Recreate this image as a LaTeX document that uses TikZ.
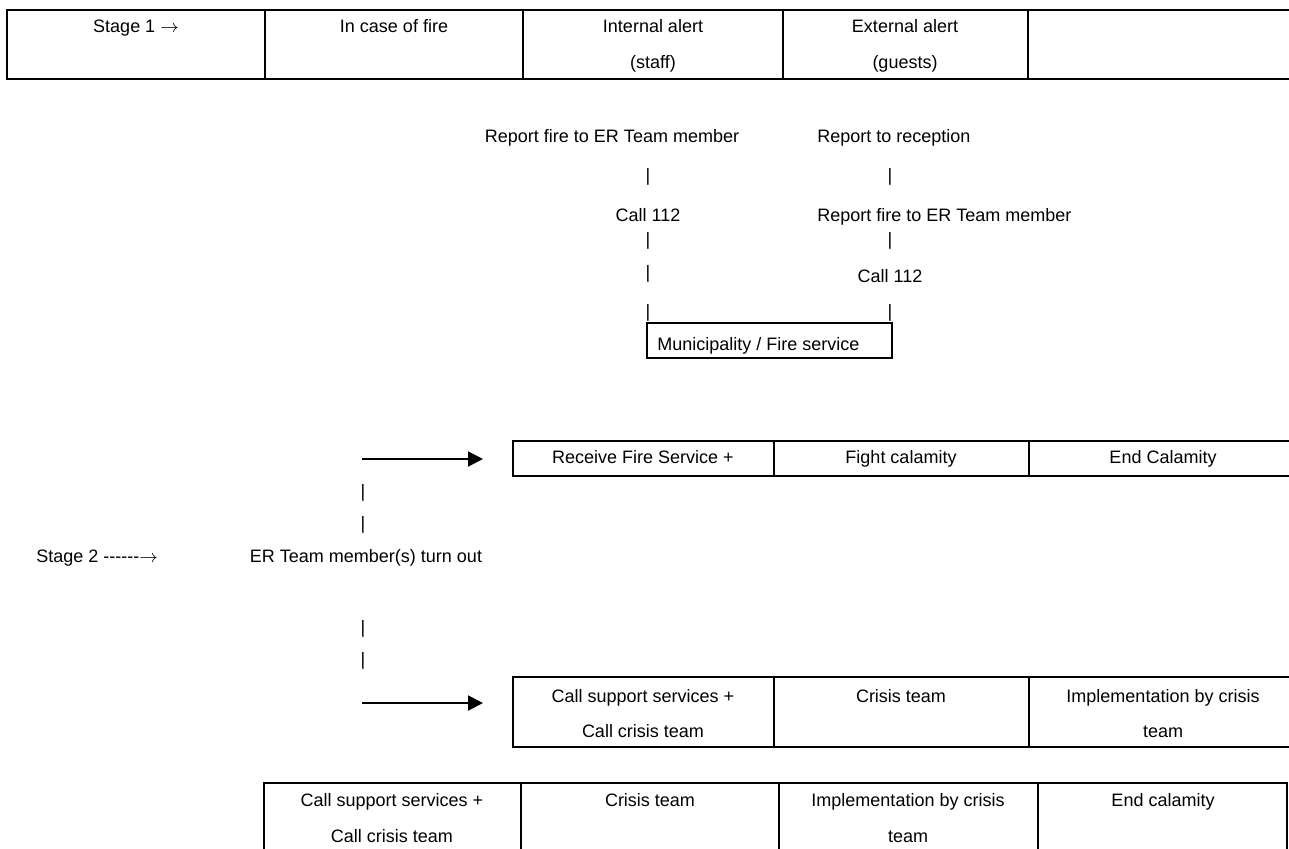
\documentclass[tikz,border=0pt]{standalone}
\usepackage{fontspec}
\setmainfont{Liberation Sans}
\usepackage{tikz}
\usetikzlibrary{arrows.meta}

\begin{document}
\begin{tikzpicture}[x=0.5pt, y=-0.5pt,
    every node/.style={font=\fontsize{9}{11}\selectfont, inner sep=0pt, text height=7pt, text depth=2pt},
    cell/.style={draw, line width=1pt, rectangle, outer sep=0pt, anchor=north west},
    flowarrow/.style={line width=1pt, -{Triangle[length=7.5pt, width=7.5pt]}}]
  \useasboundingbox (0,0) rectangle (1289,848);
  % stage 1 table
  \node[cell, minimum width=129pt, minimum height=34.5pt] (c1) at (7,10) {};
  \node[cell, minimum width=129pt, minimum height=34.5pt] (c2) at (265,10) {};
  \node[cell, minimum width=130pt, minimum height=34.5pt] (c3) at (523,10) {};
  \node[cell, minimum width=122.5pt, minimum height=34.5pt] (c4) at (783,10) {};
  \node[cell, minimum width=136pt, minimum height=34.5pt] (c5) at (1028,10) {};
  \node (stage1) at (136,27) {Stage 1 $\rightarrow$};
  \node (fire) at (394,27) {In case of fire};
  \node (intern) at (653,27) {Internal alert};
  \node (staff) at (653,63) {(staff)};
  \node (extern) at (905,27) {External alert};
  \node (guests) at (905,63) {(guests)};
  % alert chains
  \node (repL) at (612,137) {Report fire to ER Team member};
  \node[anchor=west] (repR) at (817,137) {Report to reception};
  \node (barL1) at (648,176) {|};
  \node (barR1) at (890,176) {|};
  \node (callL) at (648,216) {Call 112};
  \node[anchor=west] (repR2) at (817,216) {Report fire to ER Team member};
  \node (barL2) at (648,240) {|};
  \node (barR2) at (890,240) {|};
  \node (barL3) at (648,273) {|};
  \node (callR) at (890,277) {Call 112};
  \node (barL4) at (648,312) {|};
  \node (barR4) at (890,312) {|};
  \node[cell, minimum width=122.5pt, minimum height=17.5pt] (muni) at (647,323) {};
  \node[anchor=west] (munit) at (657,345) {Municipality / Fire service};
  % stage 2
  \coordinate (a1) at (362,459);
  \coordinate (a2) at (362,703);
  \node (barE1) at (363,492) {|};
  \node (barE2) at (363,524) {|};
  \node[anchor=west] (stage2) at (36,557) {Stage 2 -{}-{}-{}-{}-{}-$\rightarrow$};
  \node (ert) at (366,557) {ER Team member(s) turn out};
  \node (barE3) at (363,628) {|};
  \node (barE4) at (363,660) {|};
  % fire service row
  \node[cell, minimum width=130.5pt, minimum height=17.5pt] (t1a) at (513,441) {};
  \node[cell, minimum width=127.5pt, minimum height=17.5pt] (t1b) at (774,441) {};
  \node[cell, minimum width=135.5pt, minimum height=17.5pt] (t1c) at (1029,441) {};
  \node (rfs) at (643,458) {Receive Fire Service +};
  \node (fight) at (901,458) {Fight calamity};
  \node (endC) at (1163,458) {End Calamity};
  % crisis team row
  \node[cell, minimum width=130.5pt, minimum height=35pt] (t2a) at (513,677) {};
  \node[cell, minimum width=127.5pt, minimum height=35pt] (t2b) at (774,677) {};
  \node[cell, minimum width=135.5pt, minimum height=35pt] (t2c) at (1029,677) {};
  \node (sup2) at (643,697) {Call support services +};
  \node (cct2) at (643,732) {Call crisis team};
  \node (crt2) at (901,697) {Crisis team};
  \node (imp2) at (1163,697) {Implementation by crisis};
  \node (team2) at (1163,732) {team};
  \draw[flowarrow, shorten >=15pt] (a1) -- (a1 -| t1a.west);
  \draw[flowarrow, shorten >=15pt] (a2) -- (a2 -| t2a.west);
  % bottom table
  \node[cell, minimum width=128.5pt, minimum height=45pt] (b1) at (264,783) {};
  \node[cell, minimum width=129pt, minimum height=45pt] (b2) at (521,783) {};
  \node[cell, minimum width=129.5pt, minimum height=45pt] (b3) at (779,783) {};
  \node[cell, minimum width=124.5pt, minimum height=45pt] (b4) at (1038,783) {};
  \node (sup3) at (392,801) {Call support services +};
  \node (cct3) at (392,837) {Call crisis team};
  \node (crt3) at (650,801) {Crisis team};
  \node (imp3) at (908,801) {Implementation by crisis};
  \node (team3) at (908,837) {team};
  \node (endc3) at (1163,801) {End calamity};
\end{tikzpicture}
\end{document}
